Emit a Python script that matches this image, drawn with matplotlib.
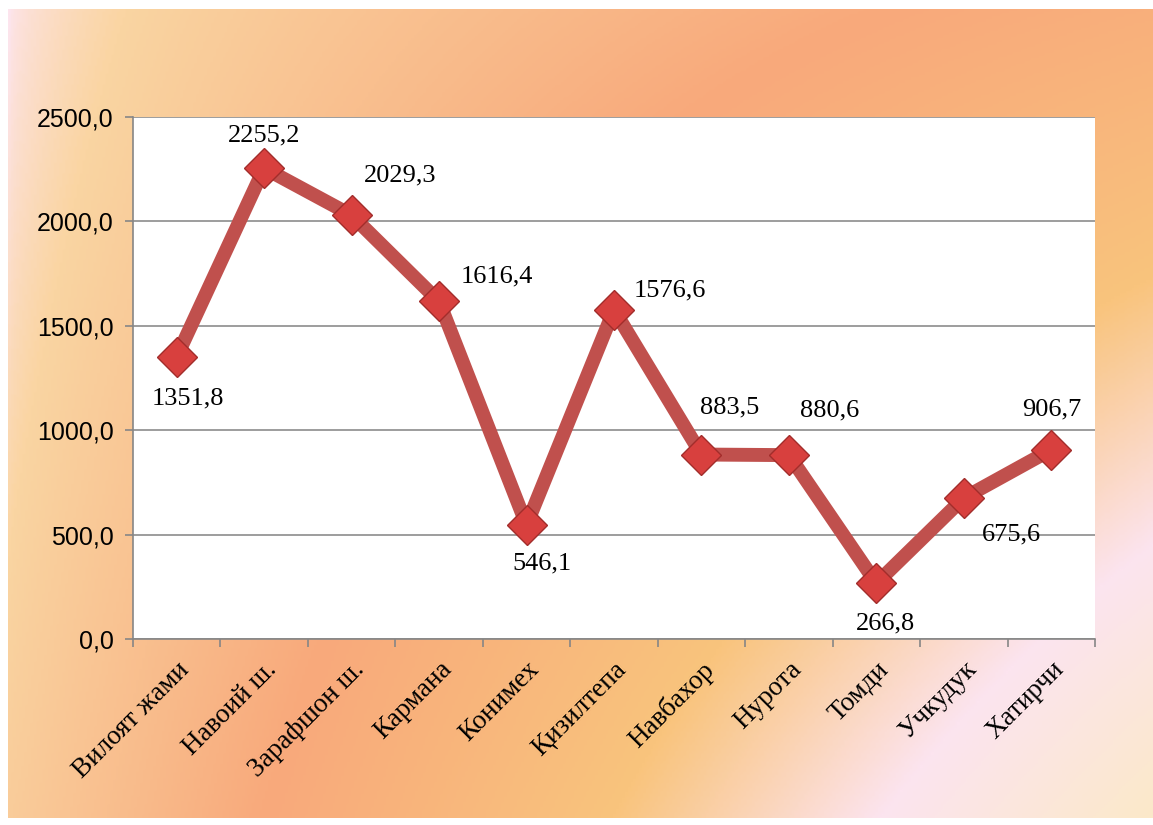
import numpy as np
import matplotlib
matplotlib.use('Agg')
import matplotlib.pyplot as plt
from matplotlib.colors import LinearSegmentedColormap
from matplotlib.ticker import FuncFormatter, MultipleLocator

# Data
districts = ['Вилоят жами', 'Навоий ш.', 'Зарафшон ш.', 'Кармана', 'Конимех',
             'Қизилтепа', 'Навбахор', 'Нурота', 'Томди', 'Учкудук', 'Хатирчи']
values = [1351.8, 2255.2, 2029.3, 1616.4, 546.1, 1576.6, 883.5, 880.6, 266.8, 675.6, 906.7]

# label offsets in pixels (dx, dy)
label_offsets = [(11, -42), (0, 33), (48, 40), (58, 25), (15, -38), (56, 19),
                 (28, 47), (41, 45), (9, -40), (48, -37), (0, 40)]

W, H = 1153, 825
fig = plt.figure(figsize=(W / 100, H / 100), dpi=100, facecolor='white')

# gradient background
bg = fig.add_axes([8 / W, 7 / H, 1 - 8 / W, (H - 9 - 7) / H])
bg.set_axis_off()
xx, yy = np.meshgrid(np.linspace(0, 1, 400), np.linspace(0, 1, 300))
t = (1 - yy) * 0.4 * xx ** 0.6 + yy * (0.15 + 0.85 * xx)
cmap = LinearSegmentedColormap.from_list('bg', [
    (0.0, '#fde5ee'), (0.1, '#fad5a2'), (0.34, '#f8a97b'),
    (0.6, '#f9c47d'), (0.8, '#fce4ef'), (1.0, '#fbe9c9')])
bg.imshow(t, cmap=cmap, vmin=0, vmax=1, aspect='auto', extent=[0, 1, 0, 1], origin='upper')

ax = fig.add_axes([133 / W, 1 - 639 / H, (1095 - 133) / W, (639 - 117) / H])
ax.set_facecolor('white')

x = np.arange(len(districts))
ax.plot(x, values, color='#c0504d', linewidth=10, solid_joinstyle='miter',
        marker='D', markersize=20, markerfacecolor='#d8403e',
        markeredgecolor='#a22d2b', markeredgewidth=1, zorder=3)

for xi, v, (dx, dy) in zip(x, values, label_offsets):
    ax.annotate(f'{v:.1f}'.replace('.', ','), (xi, v), xytext=(dx, dy),
                textcoords='offset pixels', ha='center', va='center',
                fontsize=19, family='Liberation Serif', color='black', zorder=4)

ax.set_xlim(-0.5, len(districts) - 0.5)
ax.set_ylim(0, 2500)
ax.yaxis.set_major_locator(MultipleLocator(500))
ax.yaxis.set_major_formatter(FuncFormatter(lambda v, p: f'{v:.1f}'.replace('.', ',')))
ax.grid(axis='y', color='#8c8c8c', linewidth=1.2)
ax.set_axisbelow(True)

ax.set_xticks(x)
ax.set_xticklabels(districts, rotation=45, ha='right', va='top', rotation_mode='anchor',
                   fontsize=19.5, family='Liberation Serif')
ax.set_xticks(np.arange(-0.5, len(districts)), minor=True)
ax.tick_params(axis='x', which='major', length=0, pad=13)
ax.tick_params(axis='x', which='minor', length=6, color='#868686', width=1.2)
ax.tick_params(axis='y', length=6, color='#868686', width=1.2, pad=8,
               labelsize=18)
for lab in ax.get_yticklabels():
    lab.set_family('Liberation Sans')

for s in ['top', 'right']:
    ax.spines[s].set_visible(False)
for s in ['left', 'bottom']:
    ax.spines[s].set_color('#868686')
    ax.spines[s].set_linewidth(1.2)

fig.savefig('out.png', dpi=100)
